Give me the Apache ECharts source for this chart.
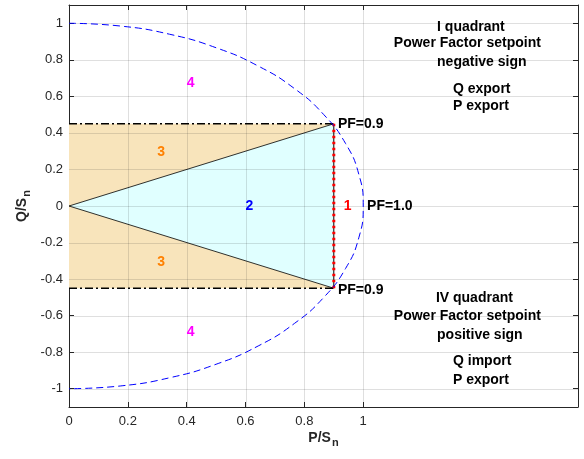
<!DOCTYPE html>
<html><head><meta charset="utf-8">
<script src="https://cdn.jsdelivr.net/npm/echarts@6/dist/echarts.min.js"></script>
<style>html,body{margin:0;padding:0;background:#fff}#c{width:584px;height:459px}</style>
</head><body><div id="c"></div><script>
// ---- data ----
const xTicks = [0, 0.2, 0.4, 0.6, 0.8, 1];
const yTicks = [-1, -0.8, -0.6, -0.4, -0.2, 0, 0.2, 0.4, 0.6, 0.8, 1];
const circleP = [0, 0.174, 0.342, 0.5, 0.643, 0.766, 0.866, 0.94, 0.985, 1, 0.985, 0.94, 0.866, 0.766, 0.643, 0.5, 0.342, 0.174, 0];
const circleQ = [1, 0.985, 0.94, 0.866, 0.766, 0.643, 0.5, 0.342, 0.174, 0, -0.174, -0.342, -0.5, -0.643, -0.766, -0.866, -0.94, -0.985, -1];
const rectP = [0, 0.9, 0.9, 0];
const rectQ = [0.45, 0.45, -0.45, -0.45];
const triP = [0, 0.9, 0.9];
const triQ = [0, 0.45, -0.45];
const limitP = [0, 0.9];
const limitQ = [0.45, -0.45];
const pfLineP = [0.9, 0.9];
const pfLineQ = [0.45, -0.45];
const regionLabels = ['4', '3', '2', '1', '3', '4'];
const regionLabelP = [0.4, 0.3, 0.6, 0.934, 0.3, 0.4];
const regionLabelQ = [0.675, 0.295, 0, 0, -0.305, -0.69];
const pfLabels = ['PF=0.9', 'PF=1.0', 'PF=0.9'];
const pfLabelP = [0.914, 1.013, 0.914];
const pfLabelQ = [0.45, 0, -0.462];
const noteLabels = ['I quadrant', 'Power Factor setpoint', 'negative sign', 'Q export', 'P export',
                    'IV quadrant', 'Power Factor setpoint', 'positive sign', 'Q import', 'P export'];
const noteP = [1.251, 1.104, 1.251, 1.305, 1.305, 1.247, 1.104, 1.251, 1.305, 1.305];
const noteQ = [0.98, 0.894, 0.79, 0.642, 0.545, -0.505, -0.604, -0.708, -0.85, -0.954];

// ---- styles ----
const FONT = '"Liberation Sans", Arial, Helvetica, sans-serif';
const AX = '#262626';
const regionColors = ['#ff00ff', '#ff8000', '#0000ff', '#ff0000', '#ff8000', '#ff00ff'];
const X_MAX = 1.73, Y_MIN = -1.1, Y_MAX = 1.1;

function pts(P, Q, api) { return P.map((p, i) => api.coord([p, Q[i]])); }
function crisp(v) { return Math.round(v) + 0.5; }

const chart = echarts.init(document.getElementById('c'), null, {renderer: 'canvas'});

const baseX = {
  type: 'value', min: 0, max: X_MAX,
  axisLine: {show: true, onZero: false, lineStyle: {color: AX, width: 1}},
  axisTick: {show: true, inside: true, length: 5, customValues: xTicks, lineStyle: {color: AX}},
  splitLine: {show: false}
};
const baseY = {
  type: 'value', min: Y_MIN, max: Y_MAX,
  axisLine: {show: true, onZero: false, lineStyle: {color: AX, width: 1}},
  axisTick: {show: true, inside: true, length: 5, customValues: yTicks, lineStyle: {color: AX}},
  splitLine: {show: false}
};

const option = {
  animation: false,
  backgroundColor: '#fff',
  grid: {left: 69, top: 5, right: 6, bottom: 52, containLabel: false},
  xAxis: [
    Object.assign({}, baseX, {
      position: 'bottom',
      axisLabel: {show: true, customValues: xTicks, color: AX, fontSize: 13, fontFamily: FONT, margin: 8},
      name: '{a|P/S}{b|n}', nameLocation: 'middle', nameGap: 21, nameMoveOverlap: false,
      nameTextStyle: {verticalAlign: 'top', rich: {
        a: {fontSize: 14, fontWeight: 'bold', color: AX, fontFamily: FONT},
        b: {fontSize: 11, fontWeight: 'bold', color: AX, fontFamily: FONT, padding: [9, 0, 0, 1]}
      }}
    }),
    Object.assign({}, baseX, {position: 'top', axisLabel: {show: false}})
  ],
  yAxis: [
    Object.assign({}, baseY, {
      position: 'left',
      axisLabel: {show: true, customValues: yTicks, color: AX, fontSize: 13, fontFamily: FONT, margin: 6},
      name: '{a|Q/S}{b|n}', nameLocation: 'middle', nameGap: 37, nameMoveOverlap: false,
      nameTextStyle: {rich: {
        a: {fontSize: 14, fontWeight: 'bold', color: AX, fontFamily: FONT},
        b: {fontSize: 11, fontWeight: 'bold', color: AX, fontFamily: FONT, padding: [9, 0, 0, 1]}
      }}
    }),
    Object.assign({}, baseY, {position: 'right', axisLabel: {show: false}})
  ],
  series: [
    { // fills
      type: 'custom', data: [[0, 0]], z: 1, silent: true,
      renderItem: function (params, api) {
        return {type: 'group', children: [
          {type: 'polygon', shape: {points: pts(rectP, rectQ, api)}, style: {fill: '#f8e4bb', stroke: null}},
          {type: 'polygon', shape: {points: pts(triP, triQ, api)}, style: {fill: '#e0ffff', stroke: null}}
        ]};
      }
    },
    { // grid lines on top of fills
      type: 'custom', data: [[0, 0]], z: 2, silent: true,
      renderItem: function (params, api) {
        const ch = [];
        xTicks.forEach(function (x) {
          if (x === 0) return;
          const a = api.coord([x, Y_MIN]), b = api.coord([x, Y_MAX]);
          const cx = crisp(a[0]);
          ch.push({type: 'line', shape: {x1: cx, y1: a[1], x2: cx, y2: b[1]}, style: {stroke: 'rgba(38,38,38,0.15)', lineWidth: 1}});
        });
        yTicks.forEach(function (y) {
          const a = api.coord([0, y]), b = api.coord([X_MAX, y]);
          const cy = crisp(a[1]);
          ch.push({type: 'line', shape: {x1: a[0], y1: cy, x2: b[0], y2: cy}, style: {stroke: 'rgba(38,38,38,0.15)', lineWidth: 1}});
        });
        return {type: 'group', children: ch};
      }
    },
    { // outlines
      type: 'custom', data: [[0, 0]], z: 3, silent: true,
      renderItem: function (params, api) {
        const tri = pts([triP[1], triP[0], triP[2]], [triQ[1], triQ[0], triQ[2]], api);
        const ch = [
          {type: 'polyline', shape: {points: tri}, style: {stroke: '#000', lineWidth: 0.8, fill: null}},
          {type: 'polyline', shape: {points: pts(pfLineP, pfLineQ, api)}, style: {stroke: '#000', lineWidth: 1, fill: null}},
          {type: 'polyline', shape: {points: pts(pfLineP, pfLineQ, api)}, style: {stroke: '#ff0000', lineWidth: 3, lineDash: [2.5, 3.5], lineCap: 'butt', fill: null}}
        ];
        limitQ.forEach(function (q) {
          ch.push({type: 'polyline', shape: {points: pts(limitP, [q, q], api)},
            style: {stroke: '#000', lineWidth: 1.5, lineDash: [8, 3, 2, 3], fill: null}});
        });
        return {type: 'group', children: ch};
      }
    },
    { // capability circle
      type: 'line', z: 4, silent: true, smooth: true, showSymbol: false,
      data: circleP.map(function (p, i) { return [p, circleQ[i]]; }),
      lineStyle: {color: '#0000ff', width: 1, type: [7, 4]}
    },
    { // texts
      type: 'custom', data: [[0, 0]], z: 5, silent: true,
      renderItem: function (params, api) {
        const ch = [];
        function txt(s, p, q, color) {
          const c = api.coord([p, q]);
          ch.push({type: 'text', x: c[0], y: c[1], style: {text: s, fill: color, font: 'bold 14px ' + FONT, align: 'left', verticalAlign: 'middle'}});
        }
        regionLabels.forEach(function (s, i) { txt(s, regionLabelP[i], regionLabelQ[i], regionColors[i]); });
        pfLabels.forEach(function (s, i) { txt(s, pfLabelP[i], pfLabelQ[i], '#000'); });
        noteLabels.forEach(function (s, i) { txt(s, noteP[i], noteQ[i], '#000'); });
        return {type: 'group', children: ch};
      }
    }
  ]
};
chart.setOption(option);
</script></body></html>
